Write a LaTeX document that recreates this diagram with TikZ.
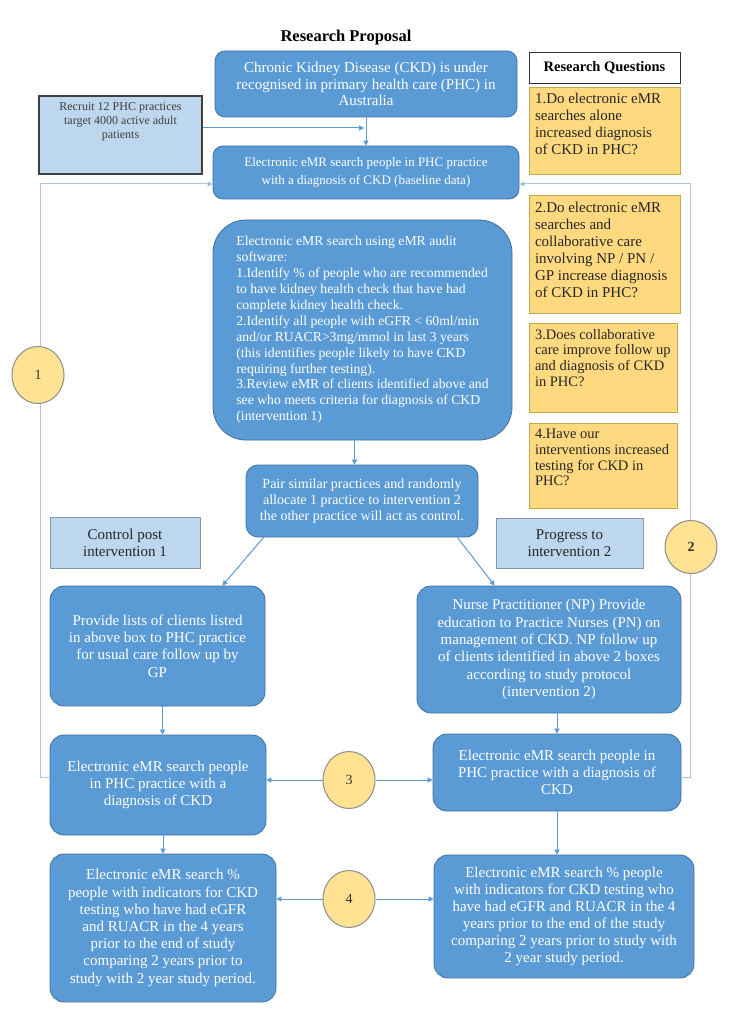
\documentclass[tikz,border=0pt]{standalone}
\usepackage{fontspec}
\setmainfont{Liberation Serif}
\usetikzlibrary{arrows.meta,shapes.geometric}
\definecolor{bfill}{HTML}{5B9BD5}
\definecolor{bdraw}{HTML}{41719C}
\definecolor{lbfill}{HTML}{BDD7EE}
\definecolor{lbdraw}{HTML}{8497B0}
\definecolor{recdraw}{HTML}{404040}
\definecolor{qfill}{HTML}{FFD97F}
\definecolor{qdraw}{HTML}{C9A84C}
\definecolor{cfill}{HTML}{FFE393}
\definecolor{cdraw}{HTML}{8C8C8C}
\definecolor{conn}{HTML}{5B9BD5}
\definecolor{loopc}{HTML}{A9C6E6}
\newcommand\myfs[2]{\fontsize{#1}{#2}\selectfont}
\begin{document}
\begin{tikzpicture}[x=1pt,y=-1pt,
  bluebox/.style={draw=bdraw, fill=bfill, rounded corners=#1, text=white, align=center, inner sep=0pt, line width=0.8pt},
  bluebox/.default=14pt,
  lightbox/.style={draw=lbdraw, fill=lbfill, text=black!85, align=center, inner sep=0pt, line width=0.8pt, font=\myfs{15}{17}},
  qbox/.style={draw=qdraw, fill=qfill, text=black!85, inner sep=0pt, line width=0.8pt, minimum width=151pt, font=\myfs{15}{17}},
  numc/.style={ellipse, draw=cdraw, fill=cfill, line width=1pt, inner sep=0pt, minimum width=52pt, minimum height=57pt, font=\myfs{14}{16}, text=black!80},
  arr/.style={draw=conn, line width=1pt, -{Triangle[length=5pt,width=5pt]}},
  loopline/.style={draw=loopc, line width=1pt, -{Triangle[length=5pt,width=5pt,fill=conn]}},
  titlefont/.style={font=\myfs{16.5}{19}\bfseries}
]
\useasboundingbox[fill=white] (0,0) rectangle (728,1024);

\node[titlefont] (title) at (346,38) {Research Proposal};

\node[bluebox=10pt, minimum width=302pt, minimum height=66pt, font=\myfs{15}{16.7}] (A) at (366,84)
  {Chronic Kidney Disease (CKD) is under\\recognised in primary health care (PHC) in\\Australia};

\node[draw=black!80, fill=white, line width=0.8pt, minimum width=151pt, minimum height=31pt, inner sep=0pt, font=\myfs{14.5}{17}\bfseries] (rq) at (604.5,67.5) {Research Questions};

\node[qbox, minimum height=87pt] (q1) at (604.5,130.5)
  {\parbox[c][75pt][t]{139pt}{\raggedright 1.Do electronic eMR\\searches alone\\increased diagnosis\\of CKD in PHC?}};
\node[qbox, minimum height=118pt] (q2) at (604.5,254)
  {\parbox[c][104pt][t]{139pt}{\raggedright 2.Do electronic eMR\\searches and\\collaborative care\\involving NP / PN /\\GP increase diagnosis\\of CKD in PHC?}};
\node[qbox, minimum width=148pt, minimum height=89pt, font=\myfs{14.5}{15.8}] (q3) at (603,367.5)
  {\parbox[c][77pt][t]{136pt}{\raggedright 3.Does collaborative\\care improve follow up\\and diagnosis of CKD\\in PHC?}};
\node[qbox, minimum width=148pt, minimum height=85pt, font=\myfs{14.5}{15.8}] (q4) at (603,465.5)
  {\parbox[c][73pt][t]{136pt}{\raggedright 4.Have our\\interventions increased\\testing for CKD in\\PHC?}};

\node[draw=recdraw, fill=lbfill, line width=1.5pt, minimum width=163pt, minimum height=78pt, inner sep=0pt, font=\myfs{12}{14}, text=black!75] (rec) at (120.5,135)
  {\parbox[c][64pt][t]{155pt}{\centering Recruit 12 PHC practices\\target 4000 active adult\\patients}};

\node[bluebox=10pt, minimum width=306pt, minimum height=53pt, font=\myfs{13}{18}] (B) at (366,172.5)
  {Electronic eMR search people in PHC practice\\with a diagnosis of CKD (baseline data)};

\node[bluebox=33pt, minimum width=299pt, minimum height=220pt, font=\myfs{13.7}{15.9}, align=left] (C) at (362.5,330)
  {Electronic eMR search using eMR audit\\software:\\1.Identify \% of people who are recommended\\to have kidney health check that have had\\complete kidney health check.\\2.Identify all people with eGFR < 60ml/min\\and/or RUACR>3mg/mmol in last 3 years\\(this identifies people likely to have CKD\\requiring further testing).\\3.Review eMR of clients identified above and\\see who meets criteria for diagnosis of CKD\\(intervention 1)};

\node[bluebox=12pt, minimum width=232pt, minimum height=72pt, font=\myfs{14}{16}] (D) at (362,501)
  {Pair similar practices and randomly\\allocate 1 practice to intervention 2\\the other practice will act as control.};

\node[lightbox, minimum width=150pt, minimum height=51pt] (ctl) at (125,542.5) {Control post\\intervention 1};
\node[lightbox, minimum width=147pt, minimum height=50pt] (prg) at (569.5,543) {Progress to\\intervention 2};

\node[bluebox, minimum width=215pt, minimum height=120pt, font=\myfs{15}{17.4}] (E) at (157.5,646)
  {Provide lists of clients listed\\in above box to PHC practice\\for usual care follow up by\\GP};
\node[bluebox, minimum width=264pt, minimum height=127pt, font=\myfs{15}{17.3}] (F) at (549,649.5)
  {Nurse Practitioner (NP) Provide\\education to Practice Nurses (PN) on\\management of CKD. NP follow up\\of clients identified in above 2 boxes\\according to study protocol\\(intervention 2)};

\node[bluebox, minimum width=216pt, minimum height=100pt, font=\myfs{15}{17.4}] (G) at (158,785)
  {Electronic eMR search people\\in PHC practice with a\\diagnosis of CKD};
\node[bluebox, minimum width=248pt, minimum height=77pt, font=\myfs{15}{17}] (H) at (557,772.5)
  {Electronic eMR search people in\\PHC practice with a diagnosis of\\CKD};

\node[bluebox, minimum width=226pt, minimum height=148pt, font=\myfs{15}{17.2}] (I) at (163,928)
  {Electronic eMR search \%\\people with indicators for CKD\\testing who have had eGFR\\and RUACR in the 4 years\\prior to the end of study\\comparing 2 years prior to\\study with 2 year study period.};
\node[bluebox, minimum width=260pt, minimum height=123pt, font=\myfs{15}{17}] (J) at (564,916.5)
  {Electronic eMR search \% people\\with indicators for CKD testing who\\have had eGFR and RUACR in the 4\\years prior to the end of the study\\comparing 2 years prior to study with\\2 year study period.};

% connectors
\coordinate (rj) at (364,128);
\draw[arr] (A.south) -- (B.north);
\draw[arr] (rec.east |- rj) -- (rj);
\draw[arr] ([xshift=-8pt]C.south) -- ([xshift=-8pt]C.south |- D.north);
\draw[arr] ([xshift=18pt]D.south west) -- ([xshift=-43pt]E.north east);
\draw[arr] ([xshift=-21pt]D.south east) -- ([xshift=78pt]F.north west);
\draw[arr] ([xshift=5pt]E.south) -- ([xshift=5pt]E.south |- G.north);
\draw[arr] ([xshift=8pt]F.south) -- ([xshift=8pt]F.south |- H.north);
\draw[arr] ([xshift=5pt]G.south) -- ([xshift=5pt]G.south |- I.north);
\draw[arr] (H.south) -- (H.south |- J.north);

% feedback loops
\coordinate (L1) at (40,777);
\coordinate (L2) at (40,184);
\coordinate (R1) at (690,777);
\coordinate (R2) at (690,184);
\draw[loopline] (G.west |- L1) -- (L1) -- (L2) -- (B.west |- L2);
\draw[loopline] (H.east |- R1) -- (R1) -- (R2) -- (B.east |- R2);

% numbered circles
\node[numc] (c1) at (38,375) {1};
\node[numc, minimum height=53pt] (c2) at (691,547) {\bfseries 2};
\node[numc] (c3) at (349,780) {3};
\node[numc] (c4) at (349,899) {4};

\draw[arr] (c3.west) -- (G.east |- c3.west);
\draw[arr] (c3.east) -- (H.west |- c3.east);
\draw[arr] (c4.west) -- (I.east |- c4.west);
\draw[arr] (c4.east) -- (J.west |- c4.east);
\end{tikzpicture}
\end{document}
